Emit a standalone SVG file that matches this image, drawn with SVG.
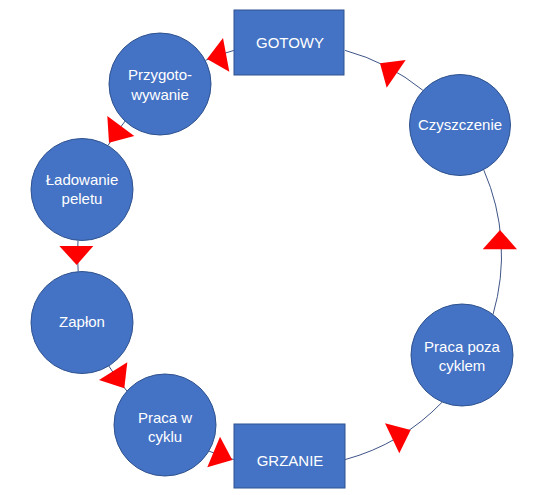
<svg xmlns="http://www.w3.org/2000/svg" width="560" height="495" viewBox="0 0 560 495">
<style>
.node{fill:#4472C4;stroke:#2F528F;stroke-width:1}
.lbl{fill:#ffffff;font-family:"Liberation Sans",Arial,sans-serif;font-size:15px;text-anchor:middle}
.conn{fill:none;stroke:#3F5587;stroke-width:1}
.head{fill:#FF0000;stroke:none}
</style>
<rect x="0" y="0" width="560" height="495" fill="#ffffff"/>
<g id="connectors">
<path class="conn" d="M233.9,50.4 A212,212 0 0 0 205.3,60.4"/>
<path class="conn" d="M125.2,121 A212,212 0 0 0 108,145.5"/>
<path class="conn" d="M78,240.6 A212,212 0 0 0 78.2,271.6"/>
<path class="conn" d="M108.7,365.8 A212,212 0 0 0 126.9,391"/>
<path class="conn" d="M208.7,451 A212,212 0 0 0 233.9,459.6"/>
<path class="conn" d="M345.1,459.6 A212,212 0 0 0 442.3,402"/>
<path class="conn" d="M493,314.5 A212,212 0 0 0 483.8,170.1"/>
<path class="conn" d="M422.9,90.3 A212,212 0 0 0 345.1,50.4"/>
<polygon class="head" points="207,59 223,38 229.3,71.7"/>
<polygon class="head" points="109,142.7 107.3,116 134.3,136"/>
<polygon class="head" points="76.7,265 59.3,246 93.3,246"/>
<polygon class="head" points="124.3,388.3 99,380 127.3,362.3"/>
<polygon class="head" points="232.3,460 207.3,467.3 220,436.7"/>
<polygon class="head" points="410.7,430 385,423.3 399.3,453.3"/>
<polygon class="head" points="500,230 482.7,249.3 517,249.3"/>
<polygon class="head" points="380,63.3 405.7,60 386.7,87.7"/>
</g>
<g id="gotowy">
<rect class="node" x="234" y="10" width="110" height="65"/>
<text class="lbl" x="290" y="48">GOTOWY</text>
</g>
<g id="przygotowywanie">
<circle class="node" cx="160" cy="84" r="51"/>
<text class="lbl" x="160" y="80">Przygoto-</text>
<text class="lbl" x="160" y="100">wywanie</text>
</g>
<g id="ladowanie">
<circle class="node" cx="82" cy="189.5" r="51"/>
<text class="lbl" x="82" y="185">Ładowanie</text>
<text class="lbl" x="82" y="204">peletu</text>
</g>
<g id="zaplon">
<circle class="node" cx="82" cy="322.5" r="51"/>
<text class="lbl" x="82" y="327">Zapłon</text>
</g>
<g id="praca-w-cyklu">
<circle class="node" cx="165" cy="425" r="51"/>
<text class="lbl" x="165" y="423">Praca w</text>
<text class="lbl" x="165" y="442">cyklu</text>
</g>
<g id="grzanie">
<rect class="node" x="234" y="424" width="111" height="64"/>
<text class="lbl" x="290" y="466">GRZANIE</text>
</g>
<g id="praca-poza-cyklem">
<circle class="node" cx="462" cy="355" r="51"/>
<text class="lbl" x="462" y="352">Praca poza</text>
<text class="lbl" x="462" y="371">cyklem</text>
</g>
<g id="czyszczenie">
<circle class="node" cx="460" cy="125" r="50.5"/>
<text class="lbl" x="460" y="130">Czyszczenie</text>
</g>
</svg>
